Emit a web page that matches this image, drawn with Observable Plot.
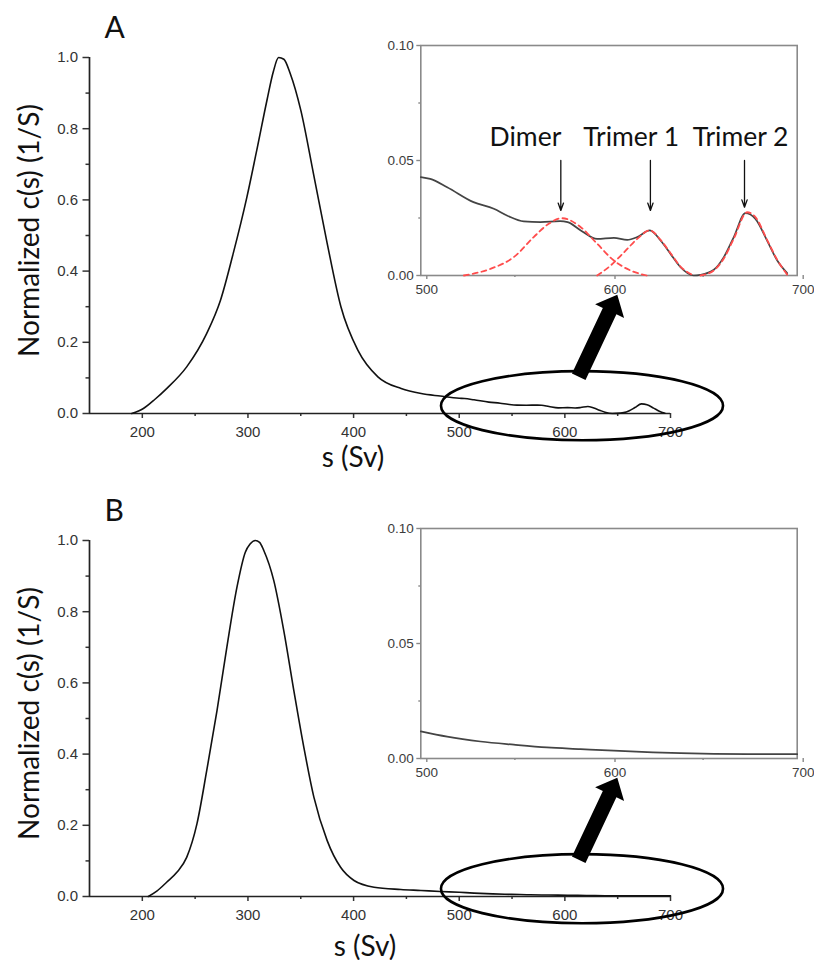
<!DOCTYPE html>
<html>
<head>
<meta charset="utf-8">
<script src="https://cdn.jsdelivr.net/npm/d3@7"></script>
<script src="https://cdn.jsdelivr.net/npm/@observablehq/plot@0.6"></script>
<style>
  body { margin: 0; background: #fff; }
  #root { position: relative; width: 814px; height: 960px; overflow: hidden; background: #fff; }
  #root svg { position: absolute; }
</style>
</head>
<body>
<div id="root"></div>
<script>
// ---------------- DATA ----------------
// Panel A, main c(s) distribution (s in Sv, normalized c(s)) up to 500 S
const mainA_s = [190, 201, 212, 223, 242, 261, 274, 286, 299, 309, 318, 324, 329, 334, 340, 350, 362, 375, 388, 404, 423, 445, 464, 482];
const mainA_c = [0, 0.014, 0.04, 0.07, 0.131, 0.225, 0.318, 0.449, 0.608, 0.749, 0.88, 0.96, 1.0, 0.995, 0.955, 0.852, 0.674, 0.478, 0.30, 0.178, 0.103, 0.07, 0.056, 0.049];
// Panel A, zoomed tail 500-700 S (shown in inset, continues main curve)
const tailA_s = [500, 505, 514, 528, 538.8, 546, 554.7, 563.6, 574, 578, 585, 593.7, 602.6, 609.7, 615, 621.7, 627.4, 632.7, 638, 645, 648.6, 655.7, 661, 666.3, 672.5, 677.8, 684, 689.4, 694.7];
const tailA_c = [0.0428, 0.042, 0.0384, 0.0319, 0.029, 0.026, 0.0235, 0.0232, 0.0236, 0.0232, 0.0196, 0.0159, 0.0164, 0.0155, 0.0167, 0.0196, 0.0152, 0.0094, 0.0036, 0.0, 0.0003, 0.0025, 0.008, 0.0167, 0.0271, 0.0246, 0.0152, 0.0065, 0.001];
// Gaussian fits (red dashed) in inset A
const dimer_s = [522.9, 537, 549.4, 560, 568, 575, 585, 593.7, 602.6, 611.4, 620];
const dimer_c = [0, 0.0029, 0.008, 0.0167, 0.0225, 0.0249, 0.021, 0.0138, 0.0065, 0.0022, 0];
const trimer1_s = [593.7, 600.8, 608, 615, 621.7, 627.4, 632.7, 638, 645];
const trimer1_c = [0, 0.0043, 0.0101, 0.0159, 0.0196, 0.0155, 0.0097, 0.0039, 0];
const trimer2_s = [648.6, 655.7, 661, 666.3, 673.4, 677.8, 684, 689.4, 695];
const trimer2_c = [0, 0.0022, 0.0074, 0.016, 0.0275, 0.0254, 0.0155, 0.0068, 0];
// Peak annotations in inset A
const peakLabels = ["Dimer", "Trimer 1", "Trimer 2"];
const peakLabel_s = [555.6, 611.8, 669.9];
const peakLabel_c = [0.0565, 0.0565, 0.0565];
const peakArrow_s = [574.4, 622, 672];
const peakArrowTop_c = [0.05, 0.05, 0.05];
const peakArrowEnd_c = [0.0283, 0.0283, 0.0297];

// Panel B, main distribution up to 500 S
const mainB_s = [205.7, 213.7, 223, 232.7, 242, 251.7, 261, 270.7, 280, 289.6, 297.5, 302, 307, 311, 315, 324.4, 333.9, 343.4, 352.9, 362.4, 375, 387.7, 400.4, 419.4, 444.7, 463.7, 482];
const mainB_c = [0, 0.015, 0.04, 0.068, 0.11, 0.204, 0.354, 0.522, 0.70, 0.869, 0.967, 0.99, 1.0, 0.995, 0.972, 0.888, 0.747, 0.579, 0.419, 0.279, 0.157, 0.082, 0.045, 0.026, 0.0197, 0.0169, 0.014];
// Panel B tail 500-700 S
const tailB_s = [500, 514, 531.7, 549.4, 567, 584.9, 602.6, 620.3, 638, 655.7, 673.4, 700];
const tailB_c = [0.0118, 0.0095, 0.0074, 0.006, 0.0048, 0.0041, 0.0034, 0.0028, 0.0023, 0.002, 0.0019, 0.0019];

// Axes / ticks / labels
const mainXDomain = [150, 700];
const mainYDomain = [0, 1];
const mainXMajor = [200, 300, 400, 500, 600, 700];
const mainXMinor = [250, 350, 450, 550, 650];
const mainYMajor = [0, 0.2, 0.4, 0.6, 0.8, 1.0];
const mainYMinor = [0.1, 0.3, 0.5, 0.7, 0.9];
const insetXDomain = [500, 700];
const insetYDomain = [0, 0.1];
const insetXMajor = [500, 600, 700];
const insetXMinor = [550, 650];
const insetYMajor = [0, 0.05, 0.1];
const insetYMinor = [0.025, 0.075];
const xLabel = "s (Sv)";
const yLabel = "Normalized c(s) (1/S)";
const panelLetters = ["A", "B"];

// Zoom-callout annotation (ellipse around tail + big arrow), in data units of main chart
const calloutEllipse = { s: 616.7, c: 0.0205, sHalf: 133.5, cHalf: 0.097 };
const calloutArrow = { from: [613.6, 0.102], to: [650.1, 0.332] };

// ---------------- DRAWING ----------------
const root = document.getElementById("root");
const tickFont = "'Liberation Sans', Arial, Helvetica, sans-serif";
const labelFont = "Lato, 'Open Sans', sans-serif";
const zip = (xs, ys) => xs.map((s, i) => ({ s, c: ys[i] }));

function place(svg, left, top) {
  svg.style.left = left + "px";
  svg.style.top = top + "px";
  root.appendChild(svg);
  return svg;
}

function mainPanel({ s, c, letter, top, xlDx, xlDy }) {
  const data = zip(s, c);
  const svg = Plot.plot({
    width: 814, height: 477,
    marginLeft: 89, marginRight: 144, marginTop: 57, marginBottom: 64,
    style: { background: "transparent", overflow: "visible", fontFamily: tickFont, fontSize: "15px" },
    x: { domain: mainXDomain },
    y: { domain: mainYDomain },
    marks: [
      Plot.axisY({ ticks: mainYMajor, tickSize: 6.5, tickPadding: 5, tickFormat: d3.format(".1f"), fontSize: 15, color: "#333", strokeWidth: 1.5, label: null }),
      Plot.axisY({ ticks: mainYMinor, tickSize: 3.5, tickFormat: () => "", color: "#333", strokeWidth: 1.5, label: null }),
      Plot.axisX({ ticks: mainXMajor, tickSize: 5, tickPadding: 8, tickFormat: d3.format("d"), fontSize: 15, color: "#333", strokeWidth: 1.5, label: null }),
      Plot.axisX({ ticks: mainXMinor, tickSize: 3, tickFormat: () => "", color: "#333", strokeWidth: 1.5, label: null }),
      Plot.ruleX([mainXDomain[0]], { stroke: "#222", strokeWidth: 1.7 }),
      Plot.ruleY([mainYDomain[0]], { stroke: "#222", strokeWidth: 1.7 }),
      Plot.line(data, { x: "s", y: "c", stroke: "#111", strokeWidth: 1.6, curve: "monotone-x" }),
      Plot.text([yLabel], { frameAnchor: "left", textAnchor: "middle", rotate: -90, dx: -59, dy: -5, fontSize: 28, fontFamily: labelFont, fill: "#111" }),
      Plot.text([xLabel], { frameAnchor: "bottom", textAnchor: "middle", dx: xlDx, dy: xlDy, lineAnchor: "bottom", fontSize: 28, fontFamily: labelFont, fill: "#111" }),
      Plot.text([letter], { frameAnchor: "top-left", dx: 15, dy: -20, textAnchor: "start", lineAnchor: "bottom", fontSize: 30, fontFamily: labelFont, fill: "#111" })
    ]
  });
  // callout ellipse + block arrow, positioned through the plot's own scales
  const sx = svg.scale("x"), sy = svg.scale("y");
  const g = d3.select(svg).append("g");
  const e = calloutEllipse;
  g.append("ellipse")
    .attr("cx", sx.apply(e.s)).attr("cy", sy.apply(e.c))
    .attr("rx", (sx.apply(e.s + e.sHalf) - sx.apply(e.s - e.sHalf)) / 2)
    .attr("ry", (sy.apply(e.c - e.cHalf) - sy.apply(e.c + e.cHalf)) / 2)
    .attr("fill", "none").attr("stroke", "#000").attr("stroke-width", 2.6);
  const bx = sx.apply(calloutArrow.from[0]), by = sy.apply(calloutArrow.from[1]);
  const tx = sx.apply(calloutArrow.to[0]), ty = sy.apply(calloutArrow.to[1]);
  const L = Math.hypot(tx - bx, ty - by), ux = (tx - bx) / L, uy = (ty - by) / L;
  const nx = -uy, ny = ux, w = 7.5, hw = 16, hl = 18;
  const hx = tx - ux * hl, hy = ty - uy * hl;
  const pts = [
    [bx + nx * w, by + ny * w], [hx + nx * w, hy + ny * w], [hx + nx * hw, hy + ny * hw],
    [tx, ty], [hx - nx * hw, hy - ny * hw], [hx - nx * w, hy - ny * w], [bx - nx * w, by - ny * w]
  ];
  g.append("polygon").attr("points", pts.map(p => p.join(",")).join(" ")).attr("fill", "#000");
  return place(svg, 0, top);
}

function insetPanel({ line, fits, annotate, top }) {
  const marks = [
    Plot.axisY({ ticks: insetYMajor, tickSize: 4, tickPadding: 3, tickFormat: d3.format(".2f"), fontSize: 13.5, fill: "#3c3c3c", stroke: "#888", strokeWidth: 1.4, label: null }),
    Plot.axisY({ ticks: insetYMinor, tickSize: 2, tickFormat: () => "", stroke: "#888", strokeWidth: 1.4, label: null }),
    Plot.axisX({ ticks: insetXMajor, tickSize: 4, tickPadding: 5, dx: 6, tickFormat: d3.format("d"), fontSize: 13.5, fill: "#3c3c3c", stroke: "#888", strokeWidth: 1.4, label: null }),
    Plot.axisX({ ticks: insetXMinor, tickSize: 2, tickFormat: () => "", stroke: "#888", strokeWidth: 1.4, label: null }),
    Plot.frame({ stroke: "#8a8a8a", strokeWidth: 1.6 }),
    Plot.line(line, { x: "s", y: "c", stroke: "#444", strokeWidth: 1.7, curve: "monotone-x" })
  ];
  for (const f of fits) {
    marks.push(Plot.line(f, { x: "s", y: "c", stroke: "#ff4d4d", strokeWidth: 1.8, strokeDasharray: "5,4", curve: "monotone-x" }));
  }
  if (annotate) {
    const arrows = peakArrow_s.map((s, i) => ({ s, y1: peakArrowTop_c[i], y2: peakArrowEnd_c[i] }));
    const labels = peakLabels.map((t, i) => ({ t, s: peakLabel_s[i], c: peakLabel_c[i] }));
    marks.push(Plot.arrow(arrows, { x1: "s", x2: "s", y1: "y1", y2: "y2", stroke: "#111", strokeWidth: 1.3, headLength: 9, headAngle: 40 }));
    marks.push(Plot.text(labels, { x: "s", y: "c", text: "t", lineAnchor: "bottom", fontSize: 26.5, fontFamily: labelFont, fill: "#111" }));
  }
  const svg = Plot.plot({
    width: 434, height: 280,
    marginLeft: 40.3, marginRight: 17.3, marginTop: 15, marginBottom: 35,
    style: { background: "transparent", overflow: "visible", fontFamily: tickFont, fontSize: "13.5px" },
    x: { domain: insetXDomain },
    y: { domain: insetYDomain },
    marks
  });
  return place(svg, 380, top);
}

// Panel A
mainPanel({ s: mainA_s.concat(tailA_s), c: mainA_c.concat(tailA_c), letter: panelLetters[0], top: 0, xlDx: -27, xlDy: 53 });
insetPanel({
  line: zip(tailA_s, tailA_c),
  fits: [zip(dimer_s, dimer_c), zip(trimer1_s, trimer1_c), zip(trimer2_s, trimer2_c)],
  annotate: true, top: 30
});
// Panel B
mainPanel({ s: mainB_s.concat(tailB_s), c: mainB_c.concat(tailB_c), letter: panelLetters[1], top: 483, xlDx: -15, xlDy: 59 });
insetPanel({ line: zip(tailB_s, tailB_c), fits: [], annotate: false, top: 512.7 });
</script>
</body>
</html>
